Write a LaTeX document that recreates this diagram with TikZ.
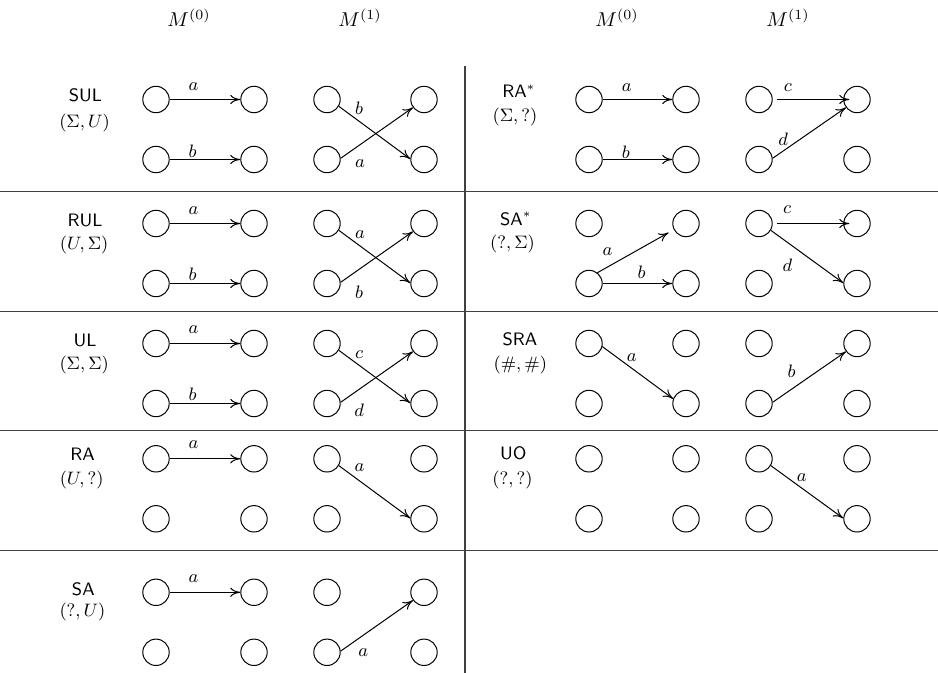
\documentclass[tikz,border=0pt]{standalone}
\usetikzlibrary{arrows.meta}
\begin{document}
\begin{tikzpicture}[x=0.5pt,y=-0.5pt,
  st/.style={circle,draw,line width=0.5pt,minimum size=13.2pt,inner sep=0pt},
  ar/.style={line width=0.5pt,-{To[length=5pt,width=4.6pt]}},
  ars/.style={ar,shorten <=2pt,shorten >=-3pt},
  lab/.style={inner sep=0pt,font=\small},
  hd/.style={inner sep=0pt},
  nm/.style={inner sep=0pt,font=\small\sffamily},
  pr/.style={inner sep=0pt,font=\small},
  tabrule/.style={line width=0.6pt,black!75}]
\useasboundingbox (0,0) rectangle (938,673);

% headers
\node[hd] (h1) at (189,17.5) {$M^{(0)}$};
\node[hd] (h2) at (360,17.5) {$M^{(1)}$};
\node[hd] (h3) at (617,17.5) {$M^{(0)}$};
\node[hd] (h4) at (788,17.5) {$M^{(1)}$};

% table rules
\draw[tabrule] (0,191.7) -- (938,191.7);
\draw[tabrule] (0,311.7) -- (938,311.7);
\draw[tabrule] (0,430.5) -- (938,430.5);
\draw[tabrule] (0,550.5) -- (938,550.5);
\draw[tabrule] (465,66) -- (465,673);

% circles
\foreach \r/\y in {1/99.5,2/223.5,3/343.5,4/458.8,5/592.3}{
  \foreach \c/\x in {1/156,2/254,3/327,4/424}{
    \node[st] (L\r-\c-t) at (\x,\y) {};
    \node[st] (L\r-\c-b) at (\x,\y+60) {};
  }
}
\foreach \r/\y in {1/99.5,2/223.5,3/343.5,4/458.8}{
  \foreach \c/\x in {1/589,2/686,3/759,4/857}{
    \node[st] (R\r-\c-t) at (\x,\y) {};
    \node[st] (R\r-\c-b) at (\x,\y+60) {};
  }
}

% row labels, left
\node[nm] (n1) at (85.5,95) {SUL};
\node[pr] (p1) at (84.5,123.3) {$(\Sigma,U)$};
\node[nm] (n2) at (85,220.3) {RUL};
\node[pr] (p2) at (84.2,245.3) {$(U,\Sigma)$};
\node[nm] (n3) at (85,340.5) {UL};
\node[pr] (p3) at (84.2,365.3) {$(\Sigma,\Sigma)$};
\node[nm] (n4) at (82.5,454.5) {RA};
\node[pr] (p4) at (81.7,480) {$(U,?)$};
\node[nm] (n5) at (83.3,588.8) {SA};
\node[pr] (p5) at (82.5,612.5) {$(?,U)$};
% row labels, right
\node[nm] (n6) at (518.8,91.2) {RA$^*$};
\node[pr] (p6) at (515,117.5) {$(\Sigma,?)$};
\node[nm] (n7) at (515.8,218.8) {SA$^*$};
\node[pr] (p7) at (512.5,244.5) {$(?,\Sigma)$};
\node[nm] (n8) at (520,339.7) {SRA};
\node[pr] (p8) at (520.3,365.3) {$(\#,\#)$};
\node[nm] (n9) at (513.3,453.3) {UO};
\node[pr] (p9) at (512.5,479.7) {$(?,?)$};

% SUL
\draw[ar] (L1-1-t) -- node[lab,midway,shift={(-11.5,-12.5)}] {$a$} (L1-2-t);
\draw[ar] (L1-1-b) -- node[lab,midway,shift={(-12.5,-8.5)}] {$b$} (L1-2-b);
\draw[ar] (L1-3-t.-30) -- node[lab,midway,shift={(-15.6,-24.4)}] {$b$} (L1-4-b.178);
\draw[ar] (L1-3-b.5) -- node[lab,midway,shift={(-16.8,31.1)}] {$a$} (L1-4-t.216);
% RUL
\draw[ar] (L2-1-t) -- node[lab,midway,shift={(-11.5,-12.5)}] {$a$} (L2-2-t);
\draw[ar] (L2-1-b) -- node[lab,midway,shift={(-12.5,-9)}] {$b$} (L2-2-b);
\draw[ar] (L2-3-t.-30) -- node[lab,midway,shift={(-14.6,-22.5)}] {$a$} (L2-4-b.178);
\draw[ar] (L2-3-b.5) -- node[lab,midway,shift={(-17.6,35.1)}] {$b$} (L2-4-t.216);
% UL
\draw[ar] (L3-1-t) -- node[lab,midway,shift={(-11.5,-13.5)}] {$a$} (L3-2-t);
\draw[ar] (L3-1-b) -- node[lab,midway,shift={(-12.5,-9.5)}] {$b$} (L3-2-b);
\draw[ar] (L3-3-t.-30) -- node[lab,midway,shift={(-15.4,-22.5)}] {$c$} (L3-4-b.178);
\draw[ar] (L3-3-b.5) -- node[lab,midway,shift={(-17.6,33.1)}] {$d$} (L3-4-t.216);
% RA
\draw[ar] (L4-1-t) -- node[lab,midway,shift={(-11.5,-14)}] {$a$} (L4-2-t);
\draw[ar] (L4-3-t.-30) -- node[lab,midway,shift={(-15.1,-24)}] {$a$} (L4-4-b.178);
% SA
\draw[ar] (L5-1-t) -- node[lab,midway,shift={(-11.5,-14)}] {$a$} (L5-2-t);
\draw[ar] (L5-3-b.5) -- node[lab,midway,shift={(-13.5,27.1)}] {$a$} (L5-4-t.216);

% RA*
\draw[ar] (R1-1-t) -- node[lab,midway,shift={(-10.8,-11.7)}] {$a$} (R1-2-t);
\draw[ar] (R1-1-b) -- node[lab,midway,shift={(-11.7,-7.5)}] {$b$} (R1-2-b);
\draw[ars] (R1-3-t) -- node[lab,midway,shift={(-20.2,-12.3)}] {$c$} (R1-4-t);
\draw[ar] (R1-3-b.5) -- node[lab,midway,shift={(-26,6.8)}] {$d$} (R1-4-t.216);
% SA*
\draw[ar,shorten >=3pt] (R2-1-b.52) -- node[lab,midway,shift={(-28.1,0.1)}] {$a$} (R2-2-t.207);
\draw[ar] (R2-1-b) -- node[lab,midway,shift={(4.2,-11.3)}] {$b$} (R2-2-b);
\draw[ars] (R2-3-t) -- node[lab,midway,shift={(-20.8,-14)}] {$c$} (R2-4-t);
\draw[ar] (R2-3-t.-30) -- node[lab,midway,shift={(-19.6,8.3)}] {$d$} (R2-4-b.178);
% SRA
\draw[ar] (R3-1-t.-13) -- node[lab,midway,shift={(-6,-14.7)}] {$a$} (R3-2-b.160);
\draw[ar] (R3-3-b.5) -- node[lab,midway,shift={(-17.6,-6.1)}] {$b$} (R3-4-t.216);
% UO
\draw[ar] (R4-3-t.-30) -- node[lab,midway,shift={(-5.4,-14)}] {$a$} (R4-4-b.178);
\end{tikzpicture}
\end{document}
